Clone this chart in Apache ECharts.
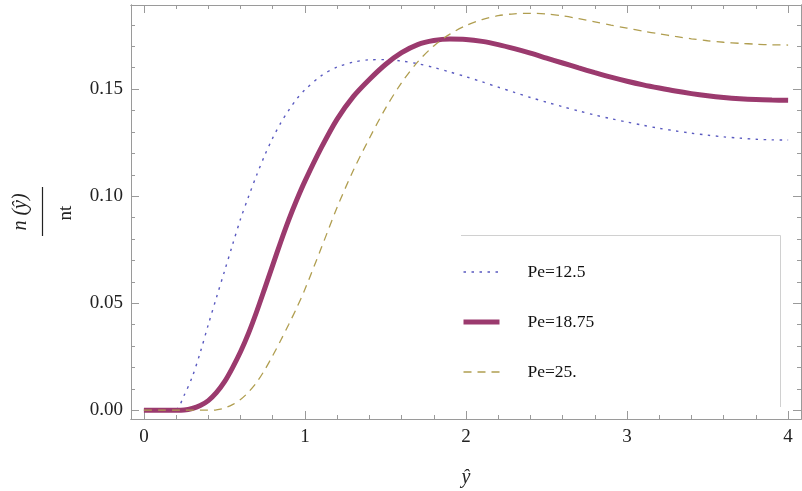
<!DOCTYPE html>
<html>
<head>
<meta charset="utf-8">
<script src="https://cdn.jsdelivr.net/npm/echarts@6/dist/echarts.min.js"></script>
<style>
  html, body { margin: 0; padding: 0; background: #fff; }
  #chart { width: 802px; height: 491px; }
</style>
</head>
<body>
<div id="chart"></div>
<script>
// Sample positions along ŷ
const yHat = [0, 0.1, 0.2, 0.25, 0.3, 0.35, 0.4, 0.45, 0.5, 0.55, 0.6, 0.65, 0.7, 0.75, 0.8, 0.85, 0.9, 0.95,
  1.0, 1.1, 1.2, 1.3, 1.4, 1.5, 1.6, 1.7, 1.8, 1.9, 2.0, 2.1, 2.2, 2.3, 2.4, 2.5, 2.6, 2.7, 2.8, 2.9,
  3.0, 3.1, 3.2, 3.3, 3.4, 3.5, 3.6, 3.7, 3.8, 3.9, 4.0];

// n(ŷ)/nt for each Péclet number
const pe125 = [0, 0, 0.0005, 0.007, 0.0155, 0.027, 0.040, 0.0525, 0.0648, 0.0772, 0.0893, 0.0998, 0.1098, 0.119, 0.1272, 0.1342, 0.1402, 0.1455,
  0.1497, 0.1562, 0.1603, 0.1626, 0.1637, 0.1638, 0.1631, 0.1619, 0.1601, 0.1580, 0.1558, 0.1534, 0.1509, 0.1485, 0.1461, 0.1439, 0.1418, 0.1398, 0.1379, 0.1362,
  0.1346, 0.1331, 0.1317, 0.1305, 0.1294, 0.1285, 0.1277, 0.1271, 0.1266, 0.1263, 0.1262];

const pe1875 = [0, 0, 0, 0.0001, 0.0008, 0.0022, 0.0045, 0.0082, 0.0132, 0.0198, 0.0273, 0.0360, 0.0460, 0.0568, 0.0678, 0.0787, 0.0890, 0.0984,
  0.1070, 0.1224, 0.1360, 0.1465, 0.1545, 0.1615, 0.1670, 0.1708, 0.1727, 0.1734, 0.1732, 0.1723, 0.1708, 0.1689, 0.1668, 0.1645, 0.1622, 0.1599, 0.1577, 0.1556,
  0.1537, 0.1520, 0.1505, 0.1491, 0.1479, 0.1469, 0.1461, 0.1455, 0.1451, 0.1449, 0.1448];

const pe25 = [0, 0, 0, 0, 0, 0, 0, 0.0002, 0.001, 0.0026, 0.005, 0.0085, 0.013, 0.0188, 0.0255, 0.0327, 0.0402, 0.048,
  0.0565, 0.0755, 0.0948, 0.112, 0.127, 0.1410, 0.1530, 0.1627, 0.1702, 0.1757, 0.1797, 0.1825, 0.1843, 0.1852, 0.1854, 0.1851, 0.1842, 0.1829, 0.1814, 0.1799,
  0.1785, 0.1771, 0.1758, 0.1746, 0.1735, 0.1726, 0.1719, 0.1714, 0.1710, 0.1707, 0.1706];

const seriesNames = ['Pe=12.5', 'Pe=18.75', 'Pe=25.'];

// Tick positions
const xMajorTicks = [0, 1, 2, 3, 4];
const xMinorTicks = [0.2, 0.4, 0.6, 0.8, 1.2, 1.4, 1.6, 1.8, 2.2, 2.4, 2.6, 2.8, 3.2, 3.4, 3.6, 3.8];
const yMajorTicks = [0, 0.05, 0.10, 0.15];
const yMinorTicks = [0.01, 0.02, 0.03, 0.04, 0.06, 0.07, 0.08, 0.09, 0.11, 0.12, 0.13, 0.14, 0.16, 0.17, 0.18];

const X_MIN = -0.08, X_MAX = 4.08;
const Y_MIN = -0.0041, Y_MAX = 0.1893;

const FONT = '"Liberation Serif", "Times New Roman", serif';
const FRAME = '#9a9a9a';

function pairs(vals) { return yHat.map((x, i) => [x, vals[i]]); }

function xAxisDef(position, ticks, len, labels) {
  return {
    type: 'value', position, min: X_MIN, max: X_MAX, gridIndex: 0,
    splitLine: { show: false },
    axisLine: { show: true, onZero: false, lineStyle: { color: FRAME, width: 1 } },
    axisTick: { show: true, inside: true, length: len, customValues: ticks, lineStyle: { color: FRAME, width: 1 } },
    axisLabel: labels ? {
      show: true, customValues: ticks, margin: 9, color: '#222',
      fontFamily: FONT, fontSize: 19, formatter: v => String(Math.round(v))
    } : { show: false }
  };
}

function yAxisDef(position, ticks, len, labels) {
  return {
    type: 'value', position, min: Y_MIN, max: Y_MAX, gridIndex: 0,
    splitLine: { show: false },
    axisLine: { show: true, onZero: false, lineStyle: { color: FRAME, width: 1 } },
    axisTick: { show: true, inside: true, length: len, customValues: ticks, lineStyle: { color: FRAME, width: 1 } },
    axisLabel: labels ? {
      show: true, customValues: ticks, margin: 8, color: '#222',
      fontFamily: FONT, fontSize: 19, formatter: v => v.toFixed(2)
    } : { show: false }
  };
}

const chart = echarts.init(document.getElementById('chart'), null, { renderer: 'canvas' });

const lineCommon = { type: 'line', smooth: 0.3, symbol: 'none', showSymbol: false };

chart.setOption({
  animation: false,
  backgroundColor: '#fff',
  grid: { left: 131, top: 5, width: 670, height: 414, containLabel: false },
  xAxis: [
    xAxisDef('bottom', xMajorTicks, 8, true),
    xAxisDef('bottom', xMinorTicks, 4, false),
    xAxisDef('top', xMajorTicks, 8, false),
    xAxisDef('top', xMinorTicks, 4, false)
  ],
  yAxis: [
    yAxisDef('left', yMajorTicks, 8, true),
    yAxisDef('left', yMinorTicks, 4, false),
    yAxisDef('right', yMajorTicks, 8, false),
    yAxisDef('right', yMinorTicks, 4, false)
  ],
  legend: {
    orient: 'vertical',
    left: 461, top: 262,
    padding: 0,
    itemWidth: 36, itemHeight: 14, itemGap: 30,
    data: seriesNames,
    itemStyle: { opacity: 0 },
    lineStyle: { width: 'inherit' },
    textStyle: { fontFamily: FONT, fontSize: 17.5, color: '#111', lineHeight: 20, padding: [0, 0, 0, 23] }
  },
  series: [
    Object.assign({}, lineCommon, {
      name: seriesNames[0], data: pairs(pe125),
      lineStyle: { color: '#5a5ac0', width: 1.4, type: [2.5, 5.5], cap: 'butt' },
      itemStyle: { color: '#5a5ac0' }
    }),
    Object.assign({}, lineCommon, {
      name: seriesNames[1], data: pairs(pe1875),
      lineStyle: { color: '#9b3a6e', width: 5 },
      itemStyle: { color: '#9b3a6e' }
    }),
    Object.assign({}, lineCommon, {
      name: seriesNames[2], data: pairs(pe25),
      lineStyle: { color: '#b09e50', width: 1.3, type: [8, 6], cap: 'butt' },
      itemStyle: { color: '#b09e50' }
    })
  ],
  graphic: [
    // legend frame edges (top and right)
    { type: 'line', shape: { x1: 461, y1: 235.5, x2: 780.5, y2: 235.5 }, style: { stroke: '#d0d0d0', lineWidth: 1 } },
    { type: 'line', shape: { x1: 780.5, y1: 235.5, x2: 780.5, y2: 407 }, style: { stroke: '#d0d0d0', lineWidth: 1 } },
    // x-axis title
    { type: 'text', x: 466, y: 478, style: { text: 'ŷ', fontFamily: FONT, fontStyle: 'italic', fontSize: 20, fill: '#222', align: 'center', verticalAlign: 'middle' } },
    // y-axis title: rotated fraction n(ŷ) / nt
    { type: 'text', x: 21, y: 212, rotation: Math.PI / 2, style: { text: 'n (ŷ)', fontFamily: FONT, fontStyle: 'italic', fontSize: 20, fill: '#222', align: 'center', verticalAlign: 'middle' } },
    { type: 'line', shape: { x1: 42.5, y1: 187, x2: 42.5, y2: 236 }, style: { stroke: '#222', lineWidth: 1.2 } },
    { type: 'text', x: 66, y: 213, rotation: Math.PI / 2, style: { text: 'nt', fontFamily: FONT, fontSize: 19, fill: '#222', align: 'center', verticalAlign: 'middle' } }
  ]
});
</script>
</body>
</html>
